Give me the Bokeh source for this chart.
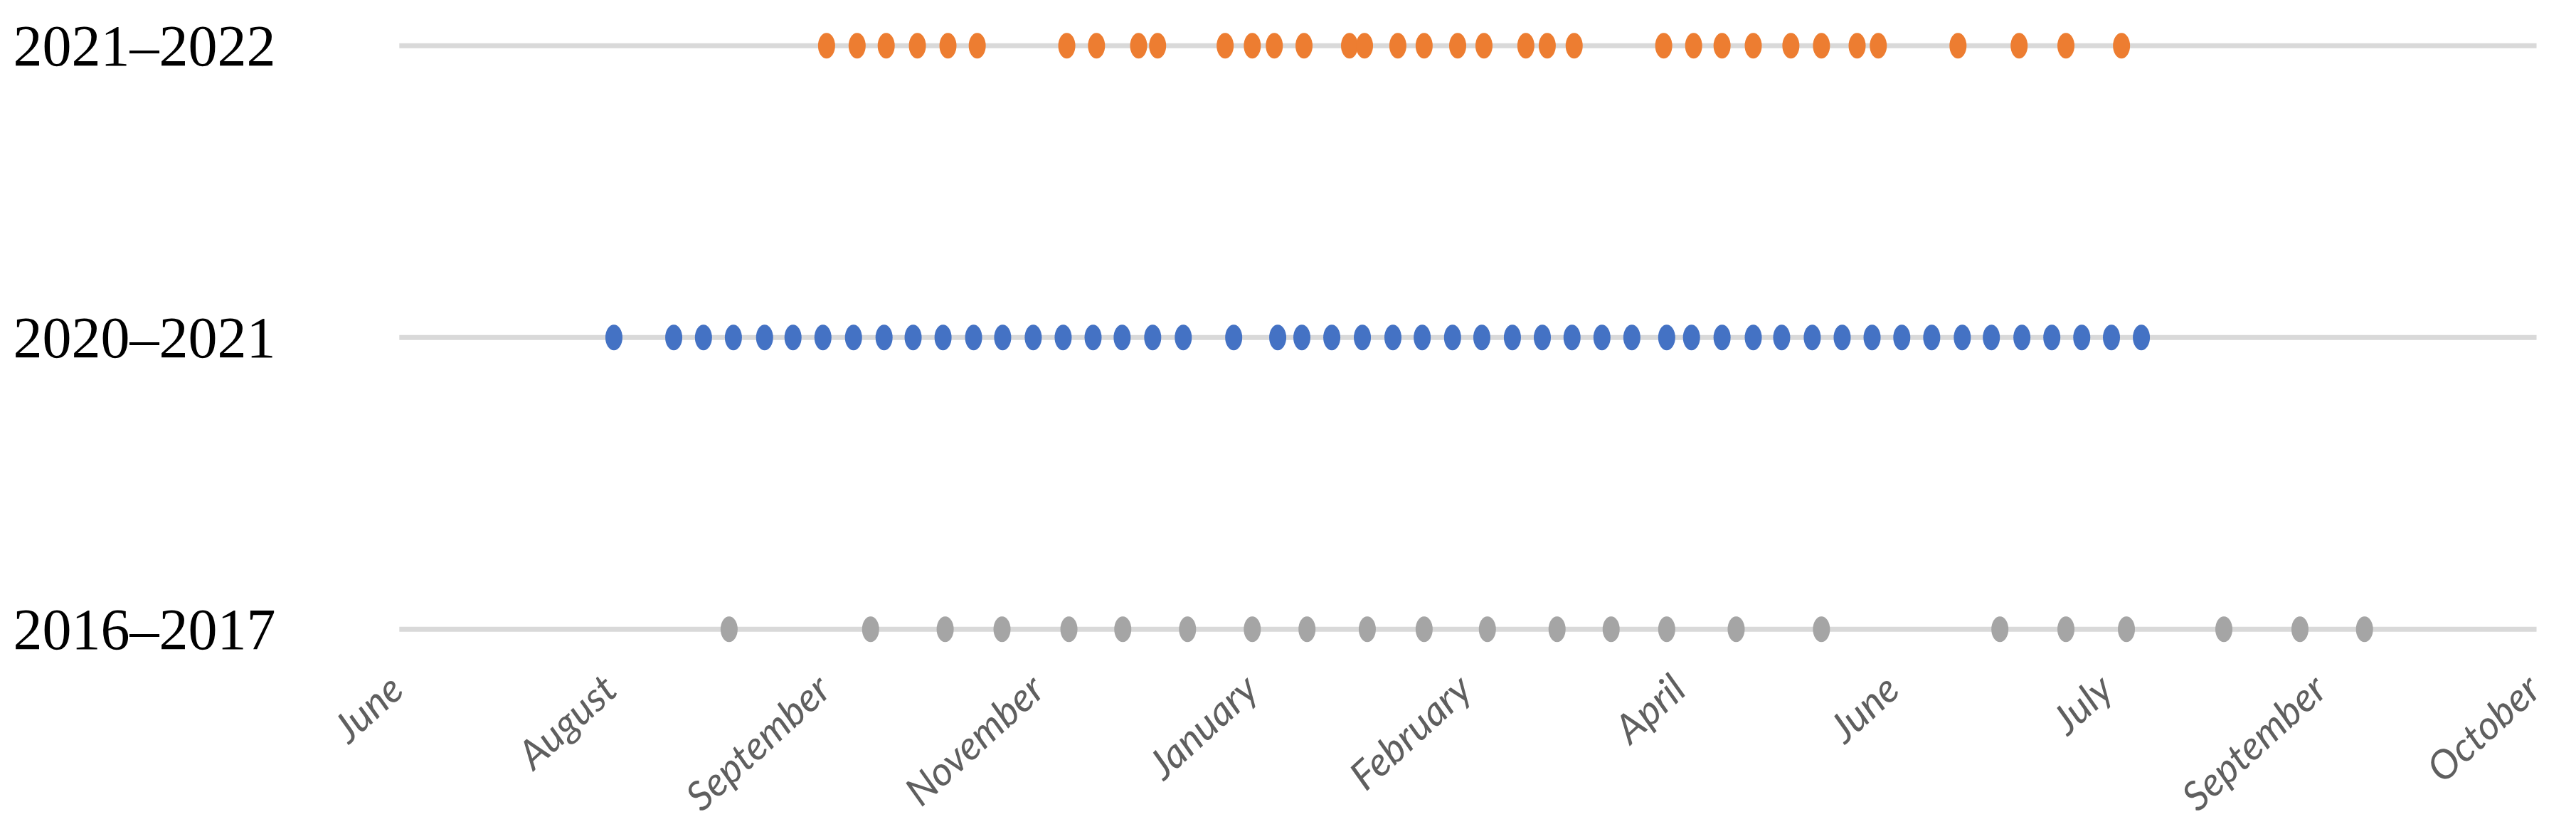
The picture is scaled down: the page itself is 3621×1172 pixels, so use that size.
from bokeh.plotting import figure
from bokeh.models import Range1d, FixedTicker, ColumnDataSource, Label
from bokeh.embed import file_html
from bokeh.resources import INLINE

# ---- data ----
seasons = ["2016–2017", "2020–2021", "2021–2022"]
month_labels = ["June", "August", "September", "November", "January", "February",
                "April", "June", "July", "September", "October"]

dates_2021_2022 = [1.999, 2.142, 2.278, 2.424, 2.567, 2.704, 3.123, 3.262, 3.459, 3.548,
                   3.864, 3.991, 4.094, 4.233, 4.446, 4.516, 4.672, 4.795, 4.952, 5.075,
                   5.271, 5.371, 5.497, 5.916, 6.056, 6.189, 6.335, 6.511, 6.654, 6.821,
                   6.920, 7.293, 7.579, 7.798, 8.058]
dates_2020_2021 = [1.004, 1.284, 1.423, 1.563, 1.709, 1.842, 1.982, 2.125, 2.268, 2.404,
                   2.544, 2.687, 2.823, 2.966, 3.106, 3.246, 3.382, 3.525, 3.668, 3.904,
                   4.110, 4.223, 4.363, 4.506, 4.649, 4.786, 4.928, 5.065, 5.208, 5.348,
                   5.487, 5.627, 5.767, 5.930, 6.046, 6.189, 6.335, 6.468, 6.611, 6.751,
                   6.891, 7.030, 7.170, 7.313, 7.449, 7.592, 7.732, 7.872, 8.011, 8.151]
dates_2016_2017 = [1.543, 2.205, 2.554, 2.820, 3.133, 3.385, 3.688, 3.991, 4.247, 4.529,
                   4.795, 5.091, 5.417, 5.670, 5.930, 6.255, 6.654, 7.489, 7.798, 8.081,
                   8.537, 8.893, 9.195]

series = [
    (dates_2016_2017, 0, "#A5A5A5"),
    (dates_2020_2021, 1, "#4472C4"),
    (dates_2021_2022, 2, "#ED7D31"),
]

# view window (frame covers the area of tracks and month labels)
X_START, X_END = -0.552, 10.133
Y_TOP, Y_BOTTOM = 2.1556, -0.6639
LABEL_Y = -0.119

p = figure(width=3605, height=1156, output_backend="svg", toolbar_location=None,
           x_range=Range1d(X_START, X_END), y_range=Range1d(Y_BOTTOM, Y_TOP),
           min_border_left=395, min_border_right=0, min_border_top=0, min_border_bottom=0)
p.outline_line_color = None
p.background_fill_color = "white"
p.grid.visible = False

# tracks
n_last = len(month_labels) - 1
rows = list(range(len(seasons)))
p.segment(x0=[0] * len(rows), x1=[n_last] * len(rows), y0=rows, y1=rows,
          line_color="#D9D9D9", line_width=7, line_cap="butt")

for xs, row, color in series:
    src = ColumnDataSource(dict(x=xs, y=[row] * len(xs)))
    p.ellipse(x="x", y="y", width=24, height=36, width_units="screen", height_units="screen",
              source=src, fill_color=color, line_color=None)

# y axis
p.yaxis.ticker = FixedTicker(ticks=rows)
p.yaxis.major_label_overrides = {i: s for i, s in enumerate(seasons)}
p.yaxis.major_label_text_font = "Liberation Serif"
p.yaxis.major_label_text_font_size = "82px"
p.yaxis.major_label_text_color = "black"
p.yaxis.major_label_standoff = 2
p.yaxis.axis_line_color = None
p.yaxis.major_tick_line_color = None
p.yaxis.minor_tick_line_color = None

# x axis: rotated month labels
p.xaxis.visible = False
for i, m in enumerate(month_labels):
    p.add_layout(Label(x=i, y=LABEL_Y, x_offset=-28, text=m, angle=0.74, text_align="right",
                       text_baseline="top", text_font="Lato", text_font_style="italic",
                       text_font_size="56px", text_color="#5f5f5f"))

open("out.html", "w").write(file_html(p, INLINE))
